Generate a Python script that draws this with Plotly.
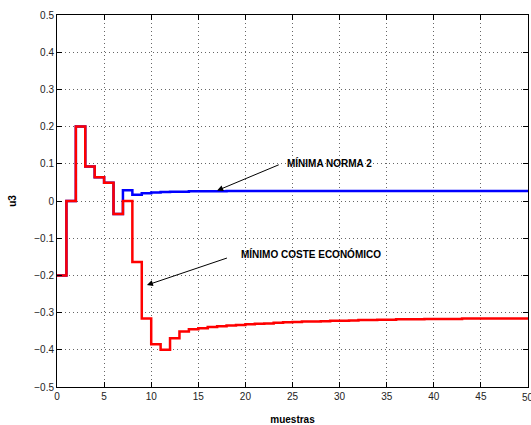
import plotly.graph_objects as go

muestras = list(range(0, 51))

u3_coste = [-0.2, 0.0, 0.2, 0.093, 0.064, 0.049, -0.035, 0.0, -0.164, -0.316,
            -0.385, -0.4, -0.369, -0.351, -0.345, -0.342, -0.339, -0.337, -0.335, -0.333,
            -0.331, -0.330, -0.329, -0.327, -0.326, -0.325, -0.324, -0.324, -0.323, -0.322,
            -0.322, -0.321, -0.320, -0.320, -0.319, -0.319, -0.318, -0.318, -0.318, -0.317,
            -0.317, -0.317, -0.317, -0.316, -0.316, -0.316, -0.316, -0.316, -0.316, -0.316,
            -0.316]

u3_norma = [-0.2, 0.0, 0.2, 0.093, 0.064, 0.049, -0.035, 0.029, 0.017, 0.021,
            0.023, 0.024, 0.025, 0.025, 0.026, 0.026, 0.026, 0.026, 0.027, 0.027,
            0.027, 0.027, 0.027, 0.027, 0.027, 0.027, 0.027, 0.027, 0.027, 0.027,
            0.027, 0.027, 0.027, 0.027, 0.027, 0.027, 0.027, 0.027, 0.027, 0.027,
            0.027, 0.027, 0.027, 0.027, 0.027, 0.027, 0.027, 0.027, 0.027, 0.027,
            0.027]

x_ticks = [0, 5, 10, 15, 20, 25, 30, 35, 40, 45, 50]
y_ticks = [-0.5, -0.4, -0.3, -0.2, -0.1, 0, 0.1, 0.2, 0.3, 0.4, 0.5]
y_ticklabels = ["\u22120.5", "\u22120.4", "\u22120.3", "\u22120.2", "\u22120.1", "0",
                "0.1", "0.2", "0.3", "0.4", "0.5"]

FONT = "Liberation Sans, Arial, Helvetica, sans-serif"

fig = go.Figure()
fig.add_trace(go.Scatter(x=muestras, y=u3_norma, mode="lines", line=dict(color="#0000ff", width=2.5, shape="hv"),
                         showlegend=False))
fig.add_trace(go.Scatter(x=muestras, y=u3_coste, mode="lines", line=dict(color="#ff0000", width=2.5, shape="hv"),
                         showlegend=False))

axis_common = dict(showline=True, linecolor="black", linewidth=1, mirror="ticks",
                   ticks="inside", ticklen=5, tickcolor="black", zeroline=False, automargin=False,
                   showgrid=True, gridcolor="#666666", gridwidth=1, griddash="1px,3px",
                   tickfont=dict(family=FONT, size=10, color="#222222"))

fig.update_xaxes(range=[0, 50], tickvals=x_ticks, ticktext=[str(v) for v in x_ticks],
                 title=dict(text="<b>muestras</b>", font=dict(family=FONT, size=10, color="black")),
                 **axis_common)
fig.update_yaxes(range=[-0.5, 0.5], tickvals=y_ticks, ticktext=y_ticklabels,
                 title=dict(text="<b>u3</b>", font=dict(family=FONT, size=10, color="black")),
                 **axis_common)

# last x tick label (plotly hides it because it overflows the page edge)
fig.add_annotation(x=x_ticks[-1], y=0, xref="x", yref="paper", yshift=-3, text=str(x_ticks[-1]),
                   showarrow=False, xanchor="center", yanchor="top",
                   font=dict(family=FONT, size=10, color="#222222"))

# arrows
fig.add_annotation(x=17.0, y=0.028, ax=23.7, ay=0.099, xref="x", yref="y", axref="x", ayref="y",
                   text="", showarrow=True, arrowhead=2, arrowsize=1.2, arrowwidth=1, arrowcolor="black")
fig.add_annotation(x=9.55, y=-0.226, ax=18.2, ay=-0.152, xref="x", yref="y", axref="x", ayref="y",
                   text="", showarrow=True, arrowhead=2, arrowsize=1.2, arrowwidth=1, arrowcolor="black")
# labels
fig.add_annotation(x=24.2, y=0.103, xref="x", yref="y", text="<b>MÍNIMA NORMA 2</b>", showarrow=False,
                   xanchor="left", yanchor="middle", font=dict(family=FONT, size=10, color="black"))
fig.add_annotation(x=19.35, y=-0.142, xref="x", yref="y", text="<b>MÍNIMO COSTE ECONÓMICO</b>", showarrow=False,
                   xanchor="left", yanchor="middle", font=dict(family=FONT, size=10, color="black"))

fig.update_layout(width=531, height=425, margin=dict(l=57, r=3, t=15, b=38),
                  plot_bgcolor="white", paper_bgcolor="white",
                  font=dict(family=FONT, size=10, color="black"))

fig.write_html("out.html", config={"displayModeBar": False},
               post_script="document.body.style.margin='0';document.body.style.overflow='hidden';")
